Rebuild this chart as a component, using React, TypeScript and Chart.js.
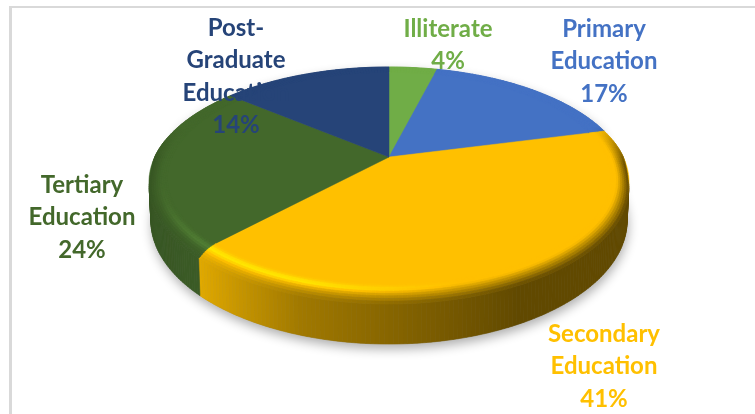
import React, { useEffect, useRef } from "react";
import { Chart, registerables } from "chart.js";

Chart.register(...registerables);

const categories = ["Illiterate", "Primary Education", "Secondary Education", "Tertiary Education", "Post-Graduate Education"];
const values = [4, 17, 41, 24, 14];
const sliceColors = ["#70AD47", "#4472C4", "#FFC000", "#43682B", "#264478"];
const labelLines = [["Illiterate"], ["Primary", "Education"], ["Secondary", "Education"], ["Tertiary", "Education"], ["Post-", "Graduate", "Education"]];
const labelCenters = [[448, 29], [604, 29], [604, 334], [82, 185], [236, 28]];

const CX = 389, CY = 157, A = 234.3, B = 109.6, K = 0.2174, DEPTH = 47, BEVEL_Z = 7, BEVEL_IN = 0.925;
const LINE_H = 32.4;

function proj(theta: number, rho: number, z: number): [number, number] {
  const u = rho * Math.cos(theta), v = rho * Math.sin(theta), d = 1 - K * v;
  const sx = 1 - 0.008 * (z / DEPTH);
  return [CX + (A * u * sx) / d, CY + (B * v) / d + (z * (1 - K)) / d];
}
function rgb(hex: string) {
  return [1, 3, 5].map((i) => parseInt(hex.slice(i, i + 2), 16));
}
function css(c: number[]) {
  return `rgb(${c.map((x) => Math.max(0, Math.min(255, Math.round(x)))).join(",")})`;
}
function wallShade(u: number) {
  const pts = [[-1, 0.82], [-0.8, 0.85], [-0.68, 0.88], [-0.3, 0.63], [0.15, 0.48], [0.45, 0.38], [1, 0.38]];
  for (let i = 1; i < pts.length; i++) {
    if (u <= pts[i][0]) {
      const t = (u - pts[i - 1][0]) / (pts[i][0] - pts[i - 1][0]);
      return pts[i - 1][1] + t * (pts[i][1] - pts[i - 1][1]);
    }
  }
  return 0.38;
}
function clamp(x: number) {
  return Math.max(0, Math.min(1, x));
}
function zFactor(theta: number) {
  return clamp(Math.sin(theta) / 0.15);
}
function quad(ctx: CanvasRenderingContext2D, p: [number, number][], color: string) {
  ctx.fillStyle = color;
  ctx.strokeStyle = color;
  ctx.lineWidth = 0.6;
  ctx.beginPath();
  p.forEach((q, i) => (i ? ctx.lineTo(q[0], q[1]) : ctx.moveTo(q[0], q[1])));
  ctx.closePath();
  ctx.fill();
  ctx.stroke();
}

const pie3d = {
  id: "pie3d",
  beforeDatasetsDraw(chart: any) {
    const ctx: CanvasRenderingContext2D = chart.ctx;
    const arcs = chart.getDatasetMeta(0).data;
    const STEP = Math.PI / 200;
    ctx.save();
    // drop shadow of the base
    ctx.save();
    ctx.shadowColor = "rgba(0,0,0,0.32)";
    ctx.shadowBlur = 11;
    ctx.shadowOffsetY = 5;
    ctx.shadowOffsetX = 1;
    ctx.fillStyle = "#888";
    ctx.beginPath();
    for (let t = 0; t < Math.PI * 2; t += STEP) {
      const p = proj(t, 1, DEPTH * clamp((Math.sin(t) + 0.3) / 0.3));
      t ? ctx.lineTo(p[0], p[1]) : ctx.moveTo(p[0], p[1]);
    }
    ctx.closePath();
    ctx.fill();
    ctx.restore();
    // walls
    arcs.forEach((arc: any, i: number) => {
      const base = rgb(sliceColors[i]);
      const n = Math.max(2, Math.ceil((arc.endAngle - arc.startAngle) / STEP));
      for (let s = 0; s < n; s++) {
        const t0 = arc.startAngle + ((arc.endAngle - arc.startAngle) * s) / n;
        const t1 = arc.startAngle + ((arc.endAngle - arc.startAngle) * (s + 1)) / n;
        if (Math.sin((t0 + t1) / 2) < -0.15) continue;
        const sh = wallShade(Math.cos((t0 + t1) / 2));
        quad(ctx, [proj(t0, 1, BEVEL_Z * zFactor(t0)), proj(t1, 1, BEVEL_Z * zFactor(t1)), proj(t1, 1, DEPTH), proj(t0, 1, DEPTH)], css(base.map((c) => c * sh)));
      }
    });
    // top faces
    arcs.forEach((arc: any, i: number) => {
      ctx.fillStyle = sliceColors[i];
      ctx.strokeStyle = sliceColors[i];
      ctx.lineWidth = 0.5;
      ctx.beginPath();
      ctx.moveTo(CX, CY);
      const n = Math.max(2, Math.ceil((arc.endAngle - arc.startAngle) / STEP));
      for (let s = 0; s <= n; s++) {
        const p = proj(arc.startAngle + ((arc.endAngle - arc.startAngle) * s) / n, 1, 0);
        ctx.lineTo(p[0], p[1]);
      }
      ctx.closePath();
      ctx.fill();
      ctx.stroke();
    });
    // bevel
    const PROFILE = 9;
    arcs.forEach((arc: any, i: number) => {
      const base = rgb(sliceColors[i]);
      const n = Math.max(2, Math.ceil((arc.endAngle - arc.startAngle) / STEP));
      for (let s = 0; s < n; s++) {
        const t0 = arc.startAngle + ((arc.endAngle - arc.startAngle) * s) / n;
        const t1 = arc.startAngle + ((arc.endAngle - arc.startAngle) * (s + 1)) / n;
        const tm = (t0 + t1) / 2;
        const u = Math.cos(tm), v = Math.sin(tm);
        const f = clamp((v + 0.3) / 0.35);
        const endShade = 1 + (wallShade(u) - 1) * f;
        const hl = clamp((0.25 - u) / 0.55) * clamp((v - 0.2) / 0.35) * clamp((u + 1.02) / 0.3);
        const zf0 = zFactor(t0), zf1 = zFactor(t1);
        for (let j = 0; j < PROFILE; j++) {
          const a = j / PROFILE, b = (j + 1) / PROFILE, m = (a + b) / 2;
          const r0 = BEVEL_IN + (1 - BEVEL_IN) * a, r1 = BEVEL_IN + (1 - BEVEL_IN) * b;
          const z0 = BEVEL_Z * a * a, z1 = BEVEL_Z * b * b;
          const peak = Math.exp(-Math.pow((m - 0.38) / 0.2, 2)) * hl * 0.21;
          const dark = 1 + (endShade - 1) * clamp((m - 0.35) / 0.65);
          const mul = dark + peak;
          quad(ctx, [proj(t0, r0, z0 * zf0), proj(t1, r0, z0 * zf1), proj(t1, r1, z1 * zf1), proj(t0, r1, z1 * zf0)], css(base.map((c) => c * mul)));
        }
      }
    });
    ctx.restore();
    return false;
  },
  afterDraw(chart: any) {
    const ctx: CanvasRenderingContext2D = chart.ctx;
    ctx.save();
    // frame
    ctx.fillStyle = "#D9D9D9";
    ctx.fillRect(9, 6, 3, 408);
    ctx.fillRect(9, 6, 746, 2);
    ctx.font = 'bold 24px Lato, sans-serif';
    ctx.textAlign = "center";
    ctx.textBaseline = "middle";
    categories.forEach((_, i) => {
      const lines = [...labelLines[i], `${values[i]}%`];
      ctx.fillStyle = sliceColors[i];
      lines.forEach((l, k) => ctx.fillText(l, labelCenters[i][0], labelCenters[i][1] + k * LINE_H));
    });
    ctx.restore();
  },
};

export default function App() {
  const ref = useRef<HTMLCanvasElement>(null);
  useEffect(() => {
    const chart = new Chart(ref.current!, {
      type: "pie",
      data: { labels: categories, datasets: [{ data: values, backgroundColor: sliceColors, borderWidth: 0 }] },
      options: {
        animation: false,
        responsive: false,
        plugins: { legend: { display: false }, tooltip: { enabled: false } },
      },
      plugins: [pie3d],
    } as any);
    return () => chart.destroy();
  }, []);
  return (
    <div style={{ position: "fixed", left: 0, top: 0, width: 755, height: 414, background: "#fff" }}>
      <canvas ref={ref} width={755} height={414} style={{ display: "block", width: 755, height: 414 }} />
    </div>
  );
}
